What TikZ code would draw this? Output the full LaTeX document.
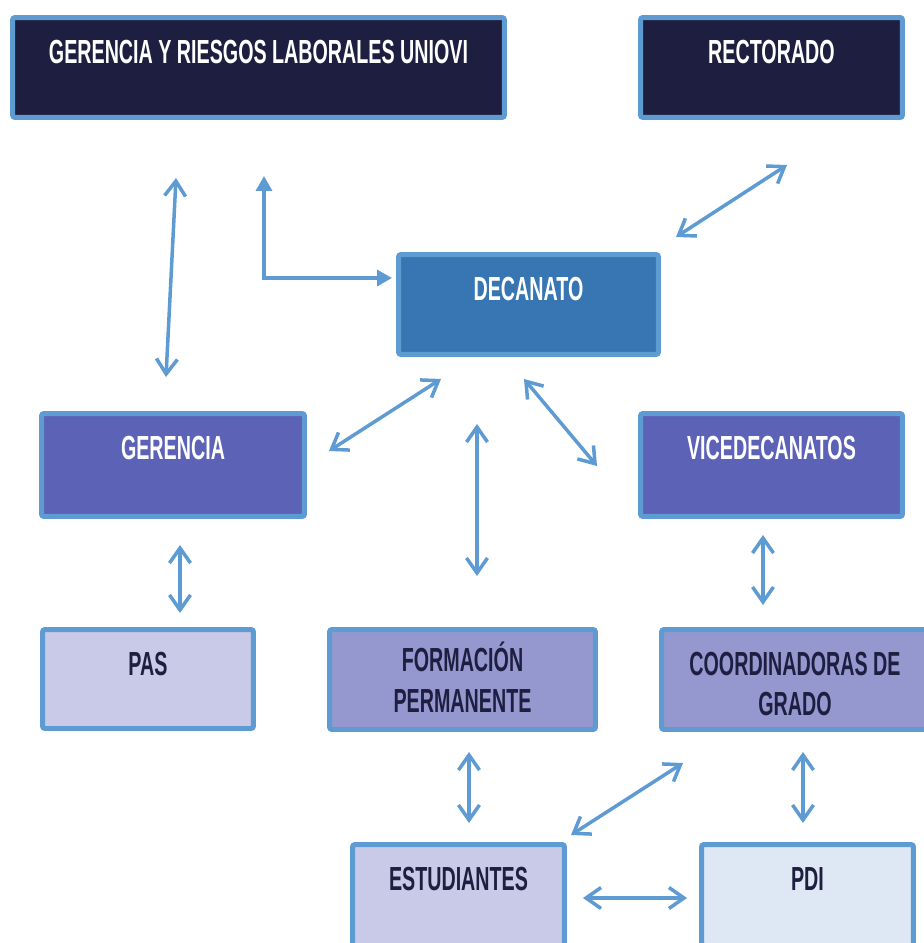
\documentclass[tikz,border=0pt]{standalone}
\usepackage{fontspec}
\setmainfont{Liberation Sans}[FakeStretch=0.59]
\usetikzlibrary{arrows.meta}

\definecolor{navy}{HTML}{1E1F40}
\definecolor{edgeblue}{HTML}{5E9BD3}
\definecolor{decblue}{HTML}{3776B3}
\definecolor{gerpurple}{HTML}{5C62B6}
\definecolor{formpurple}{HTML}{9498CF}
\definecolor{lavender}{HTML}{C9CAE7}
\definecolor{paleblue}{HTML}{DEE8F4}

\tikzset{
	unit/.style={draw=edgeblue, line width=0.1cm, rounded corners=0.05cm, inner sep=0pt},
	lbl/.style={anchor=north, inner sep=0pt, yshift=-0.5cm, align=center, font=\bfseries\fontsize{19}{22.8}\selectfont},
	white lbl/.style={lbl, text=white},
	dark lbl/.style={lbl, text=navy},
	link/.style={draw=edgeblue, line width=0.07cm, {Straight Barb[length=0.3cm,width=0.42cm]}-{Straight Barb[length=0.3cm,width=0.42cm]}},
	elbow/.style={draw=edgeblue, line width=0.07cm, {Triangle[length=0.3cm,width=0.32cm]}-{Triangle[length=0.3cm,width=0.32cm]}}
}

\begin{document}
\begin{tikzpicture}[x=0.02cm, y=-0.02cm]
	\useasboundingbox (0,0) rectangle (923,943);

	% top row
	\node[unit, fill=navy, minimum width=9.84cm, minimum height=2cm, label={[white lbl]north:GERENCIA Y RIESGOS LABORALES UNIOVI}] (grl) at (258.5,67.5) {};
	\node[unit, fill=navy, minimum width=5.24cm, minimum height=2cm, label={[white lbl]north:RECTORADO}] (rect) at (771.5,67.5) {};
	\node[unit, fill=decblue, minimum width=5.2cm, minimum height=2cm, label={[white lbl]north:DECANATO}] (dec) at (528.5,304.5) {};

	% middle rows
	\node[unit, fill=gerpurple, minimum width=5.26cm, minimum height=2.06cm, label={[white lbl]north:GERENCIA}] (ger) at (173,465) {};
	\node[unit, fill=gerpurple, minimum width=5.24cm, minimum height=2.06cm, label={[white lbl]north:VICEDECANATOS}] (vice) at (771.5,465) {};
	\node[unit, fill=lavender, minimum width=4.22cm, minimum height=1.98cm, label={[dark lbl]north:PAS}] (pas) at (148,679) {};
	\node[unit, fill=formpurple, minimum width=5.32cm, minimum height=2cm, label={[dark lbl, yshift=0.2cm]north:FORMACIÓN\\PERMANENTE}] (form) at (462.5,679.5) {};
	\node[unit, fill=formpurple, minimum width=5.34cm, minimum height=2cm, label={[dark lbl]north:COORDINADORAS DE\\GRADO}] (coord) at (795,679.5) {};

	% bottom row
	\node[unit, fill=lavender, minimum width=4.24cm, minimum height=2.02cm, label={[dark lbl]north:ESTUDIANTES}] (est) at (458.5,895) {};
	\node[unit, fill=paleblue, minimum width=4.24cm, minimum height=2.02cm, label={[dark lbl]north:PDI}] (pdi) at (807.5,895) {};

	% free ends of the connectors
	\coordinate (a1) at (176,178);  \coordinate (a2) at (166,377);
	\coordinate (b1) at (264,176);  \coordinate (b2) at (392,278);
	\coordinate (c1) at (787,165);  \coordinate (c2) at (676,237);
	\coordinate (d1) at (441,379);  \coordinate (d2) at (329,451);
	\coordinate (e1) at (524,379);  \coordinate (e2) at (597,466);
	\coordinate (f1) at (477,424);  \coordinate (f2) at (477,576);
	\coordinate (g1) at (180,545);  \coordinate (g2) at (180,613);
	\coordinate (h1) at (763,535);  \coordinate (h2) at (763,605);
	\coordinate (i1) at (469,752);  \coordinate (i2) at (469,823);
	\coordinate (j1) at (683,763);  \coordinate (j2) at (571,835);
	\coordinate (k1) at (803,752);  \coordinate (k2) at (803,823);
	\coordinate (l1) at (583,898);  \coordinate (l2) at (687,898);

	\path[link] (a1) -- (a2);
	\path[elbow] (b1) |- (b2);
	\path[link] (c1) -- (c2);
	\path[link] (d1) -- (d2);
	\path[link] (e1) -- (e2);
	\path[link] (f1) -- (f2);
	\path[link] (g1) -- (g2);
	\path[link] (h1) -- (h2);
	\path[link] (i1) -- (i2);
	\path[link] (j1) -- (j2);
	\path[link] (k1) -- (k2);
	\path[link] (l1) -- (l2);
\end{tikzpicture}
\end{document}
